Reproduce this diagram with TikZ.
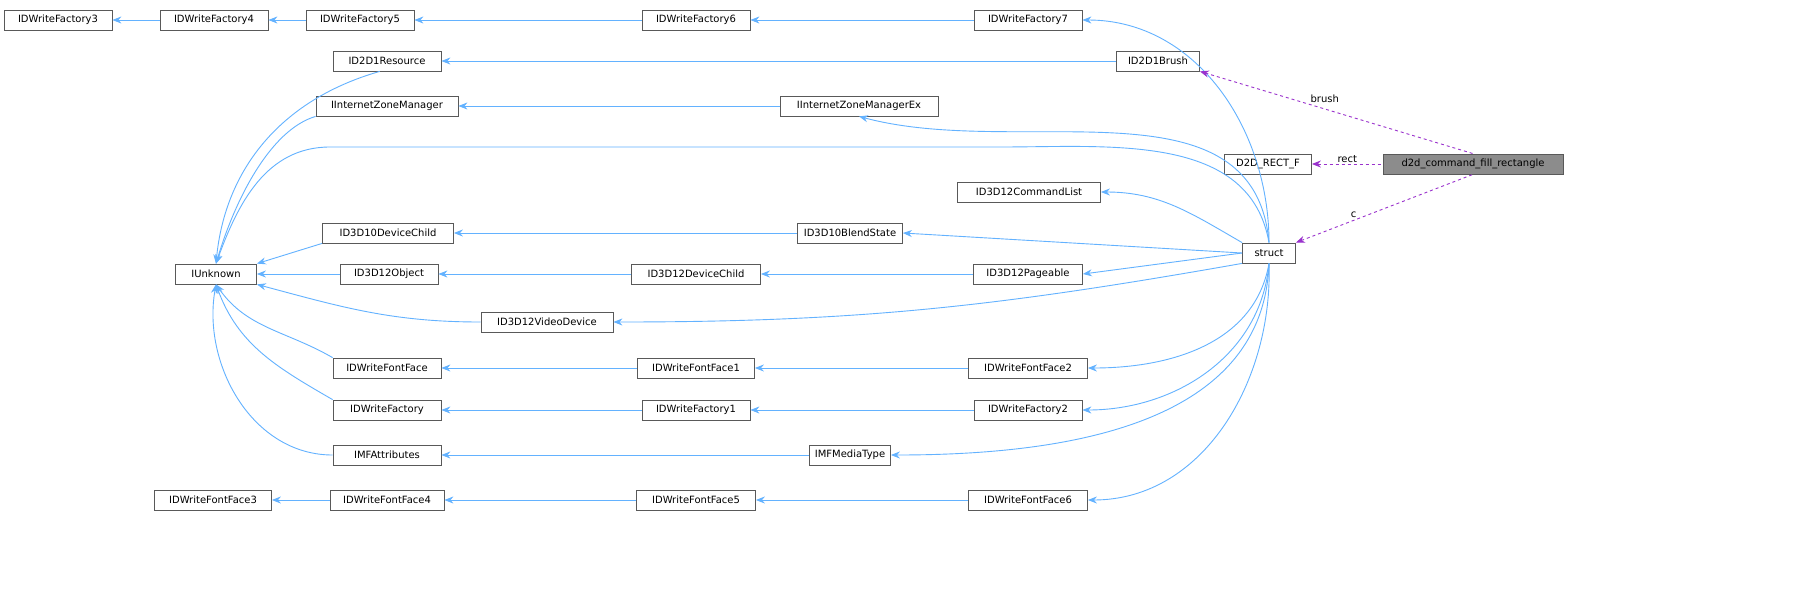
\documentclass[tikz,border=0pt]{standalone}
\usepackage{fontspec}
\setmainfont{DejaVu Sans}
\usetikzlibrary{arrows.meta}
\definecolor{eb}{RGB}{99,178,255}
\definecolor{em}{RGB}{154,50,205}
\begin{document}
\begin{tikzpicture}[x=1pt,y=-1pt,
  box/.style={draw=black!65,fill=white,line width=0.8pt,minimum height=20pt,inner sep=1pt,font=\fontsize{10pt}{12pt}\selectfont},
  inh/.style={{Stealth[length=9pt,width=7pt]}-,draw=eb,line width=0.9pt},
  mem/.style={{Stealth[length=9pt,width=7pt]}-,dashed,draw=em,line width=0.9pt},
  lab/.style={font=\fontsize{10pt}{12pt}\selectfont,inner sep=1pt,text=black}]
\clip (0,0) rectangle (1817,592);
\fill[white] (0,0) rectangle (1817,592);
\node[box,minimum width=108pt] (f3) at (58,20) {IDWriteFactory3};
\node[box,minimum width=108pt] (f4) at (214,20) {IDWriteFactory4};
\node[box,minimum width=108pt] (f5) at (360,20) {IDWriteFactory5};
\node[box,minimum width=108pt] (f6) at (696,20) {IDWriteFactory6};
\node[box,minimum width=108pt] (f7) at (1028,20) {IDWriteFactory7};
\node[box,minimum width=108pt] (res) at (387,61) {ID2D1Resource};
\node[box,minimum width=83pt] (br) at (1158,61) {ID2D1Brush};
\node[box,minimum width=142pt] (izm) at (387,106) {IInternetZoneManager};
\node[box,minimum width=158pt] (izx) at (859,106) {IInternetZoneManagerEx};
\node[box,minimum width=87pt] (rf) at (1268,164) {D2D\_RECT\_F};
\node[box,fill=black!45,minimum width=180pt] (d2d) at (1473,164) {d2d\_command\_fill\_rectangle};
\node[box,minimum width=143pt] (cl) at (1029,192) {ID3D12CommandList};
\node[box,minimum width=131pt] (dc10) at (388,233) {ID3D10DeviceChild};
\node[box,minimum width=105pt] (bs) at (850,233) {ID3D10BlendState};
\node[box,minimum width=53pt] (s) at (1269,253) {struct};
\node[box,minimum width=81pt] (u) at (216,274) {IUnknown};
\node[box,minimum width=98pt] (o12) at (389,274) {ID3D12Object};
\node[box,minimum width=129pt] (dc12) at (696,274) {ID3D12DeviceChild};
\node[box,minimum width=109pt] (pg) at (1028,274) {ID3D12Pageable};
\node[box,minimum width=132pt] (vd) at (547,322) {ID3D12VideoDevice};
\node[box,minimum width=108pt] (ff) at (387,368) {IDWriteFontFace};
\node[box,minimum width=117pt] (ff1) at (696,368) {IDWriteFontFace1};
\node[box,minimum width=119pt] (ff2) at (1028,368) {IDWriteFontFace2};
\node[box,minimum width=108pt] (fa) at (387,410) {IDWriteFactory};
\node[box,minimum width=108pt] (fa1) at (696,410) {IDWriteFactory1};
\node[box,minimum width=108pt] (fa2) at (1028,410) {IDWriteFactory2};
\node[box,minimum width=108pt] (mfa) at (387,455) {IMFAttributes};
\node[box,minimum width=81pt] (mt) at (850,455) {IMFMediaType};
\node[box,minimum width=117pt] (ff3) at (213,500) {IDWriteFontFace3};
\node[box,minimum width=114pt] (ff4) at (387,500) {IDWriteFontFace4};
\node[box,minimum width=119pt] (ff5) at (696,500) {IDWriteFontFace5};
\node[box,minimum width=119pt] (ff6) at (1028,500) {IDWriteFontFace6};
\coordinate (a1) at (1000,147);
\coordinate (a2) at (330,147);
% straight inheritance
\draw[inh] (f3) -- (f4);
\draw[inh] (f4) -- (f5);
\draw[inh] (f5) -- (f6);
\draw[inh] (f6) -- (f7);
\draw[inh] (res) -- (br);
\draw[inh] (izm) -- (izx);
\draw[inh] (dc10) -- (bs);
\draw[inh] (o12) -- (dc12);
\draw[inh] (dc12) -- (pg);
\draw[inh] (ff) -- (ff1);
\draw[inh] (ff1) -- (ff2);
\draw[inh] (fa) -- (fa1);
\draw[inh] (fa1) -- (fa2);
\draw[inh] (mfa) -- (mt);
\draw[inh] (ff3) -- (ff4);
\draw[inh] (ff4) -- (ff5);
\draw[inh] (ff5) -- (ff6);
% IUnknown
\draw[inh] (u.north) .. controls (225,170) and (280,100) .. (res.235);
\draw[inh] (u.north) .. controls (235,200) and (270,130) .. (izm.south west);
\draw[inh] (u.north east) -- (dc10.south west);
\draw[inh] (u.east) -- (o12.west);
\draw[inh] (u.south east) to[out=-15,in=180] (vd.west);
\draw[inh] (u.south) to[out=-55,in=150] (ff.north west);
\draw[inh] (u.south) to[out=-70,in=150] (fa.north west);
\draw[inh] (u.south) to[out=-100,in=180] (mfa.west);
% struct
\draw[inh] (f7.east) to[out=0,in=90] (s.north);
\draw[inh] (izx.south) to[out=-15,in=95] (s.north);
\draw[inh] (u.north) to[out=70,in=180] (a2) -- (a1) to[out=0,in=100] (s.north);
\draw[inh] (cl.east) to[out=0,in=150] (s.north west);
\draw[inh] (bs.east) -- (s.west);
\draw[inh] (pg.east) -- (s.west);
\draw[inh] (vd.east) to[out=0,in=190] (s.south west);
\draw[inh] (ff2.east) to[out=0,in=-100] (s.south);
\draw[inh] (fa2.east) to[out=0,in=-95] (s.south);
\draw[inh] (mt.east) to[out=0,in=-92] (s.south);
\draw[inh] (ff6.east) to[out=0,in=-88] (s.south);
% members
\draw[mem] (br.south east) -- node[lab,pos=0.4,above right]{brush} (d2d.north);
\draw[mem] (rf.east) -- node[lab,above]{rect} (d2d.west);
\draw[mem] (s.north east) -- node[lab,pos=0.35,above left]{c} (d2d.south);
\end{tikzpicture}
\end{document}
